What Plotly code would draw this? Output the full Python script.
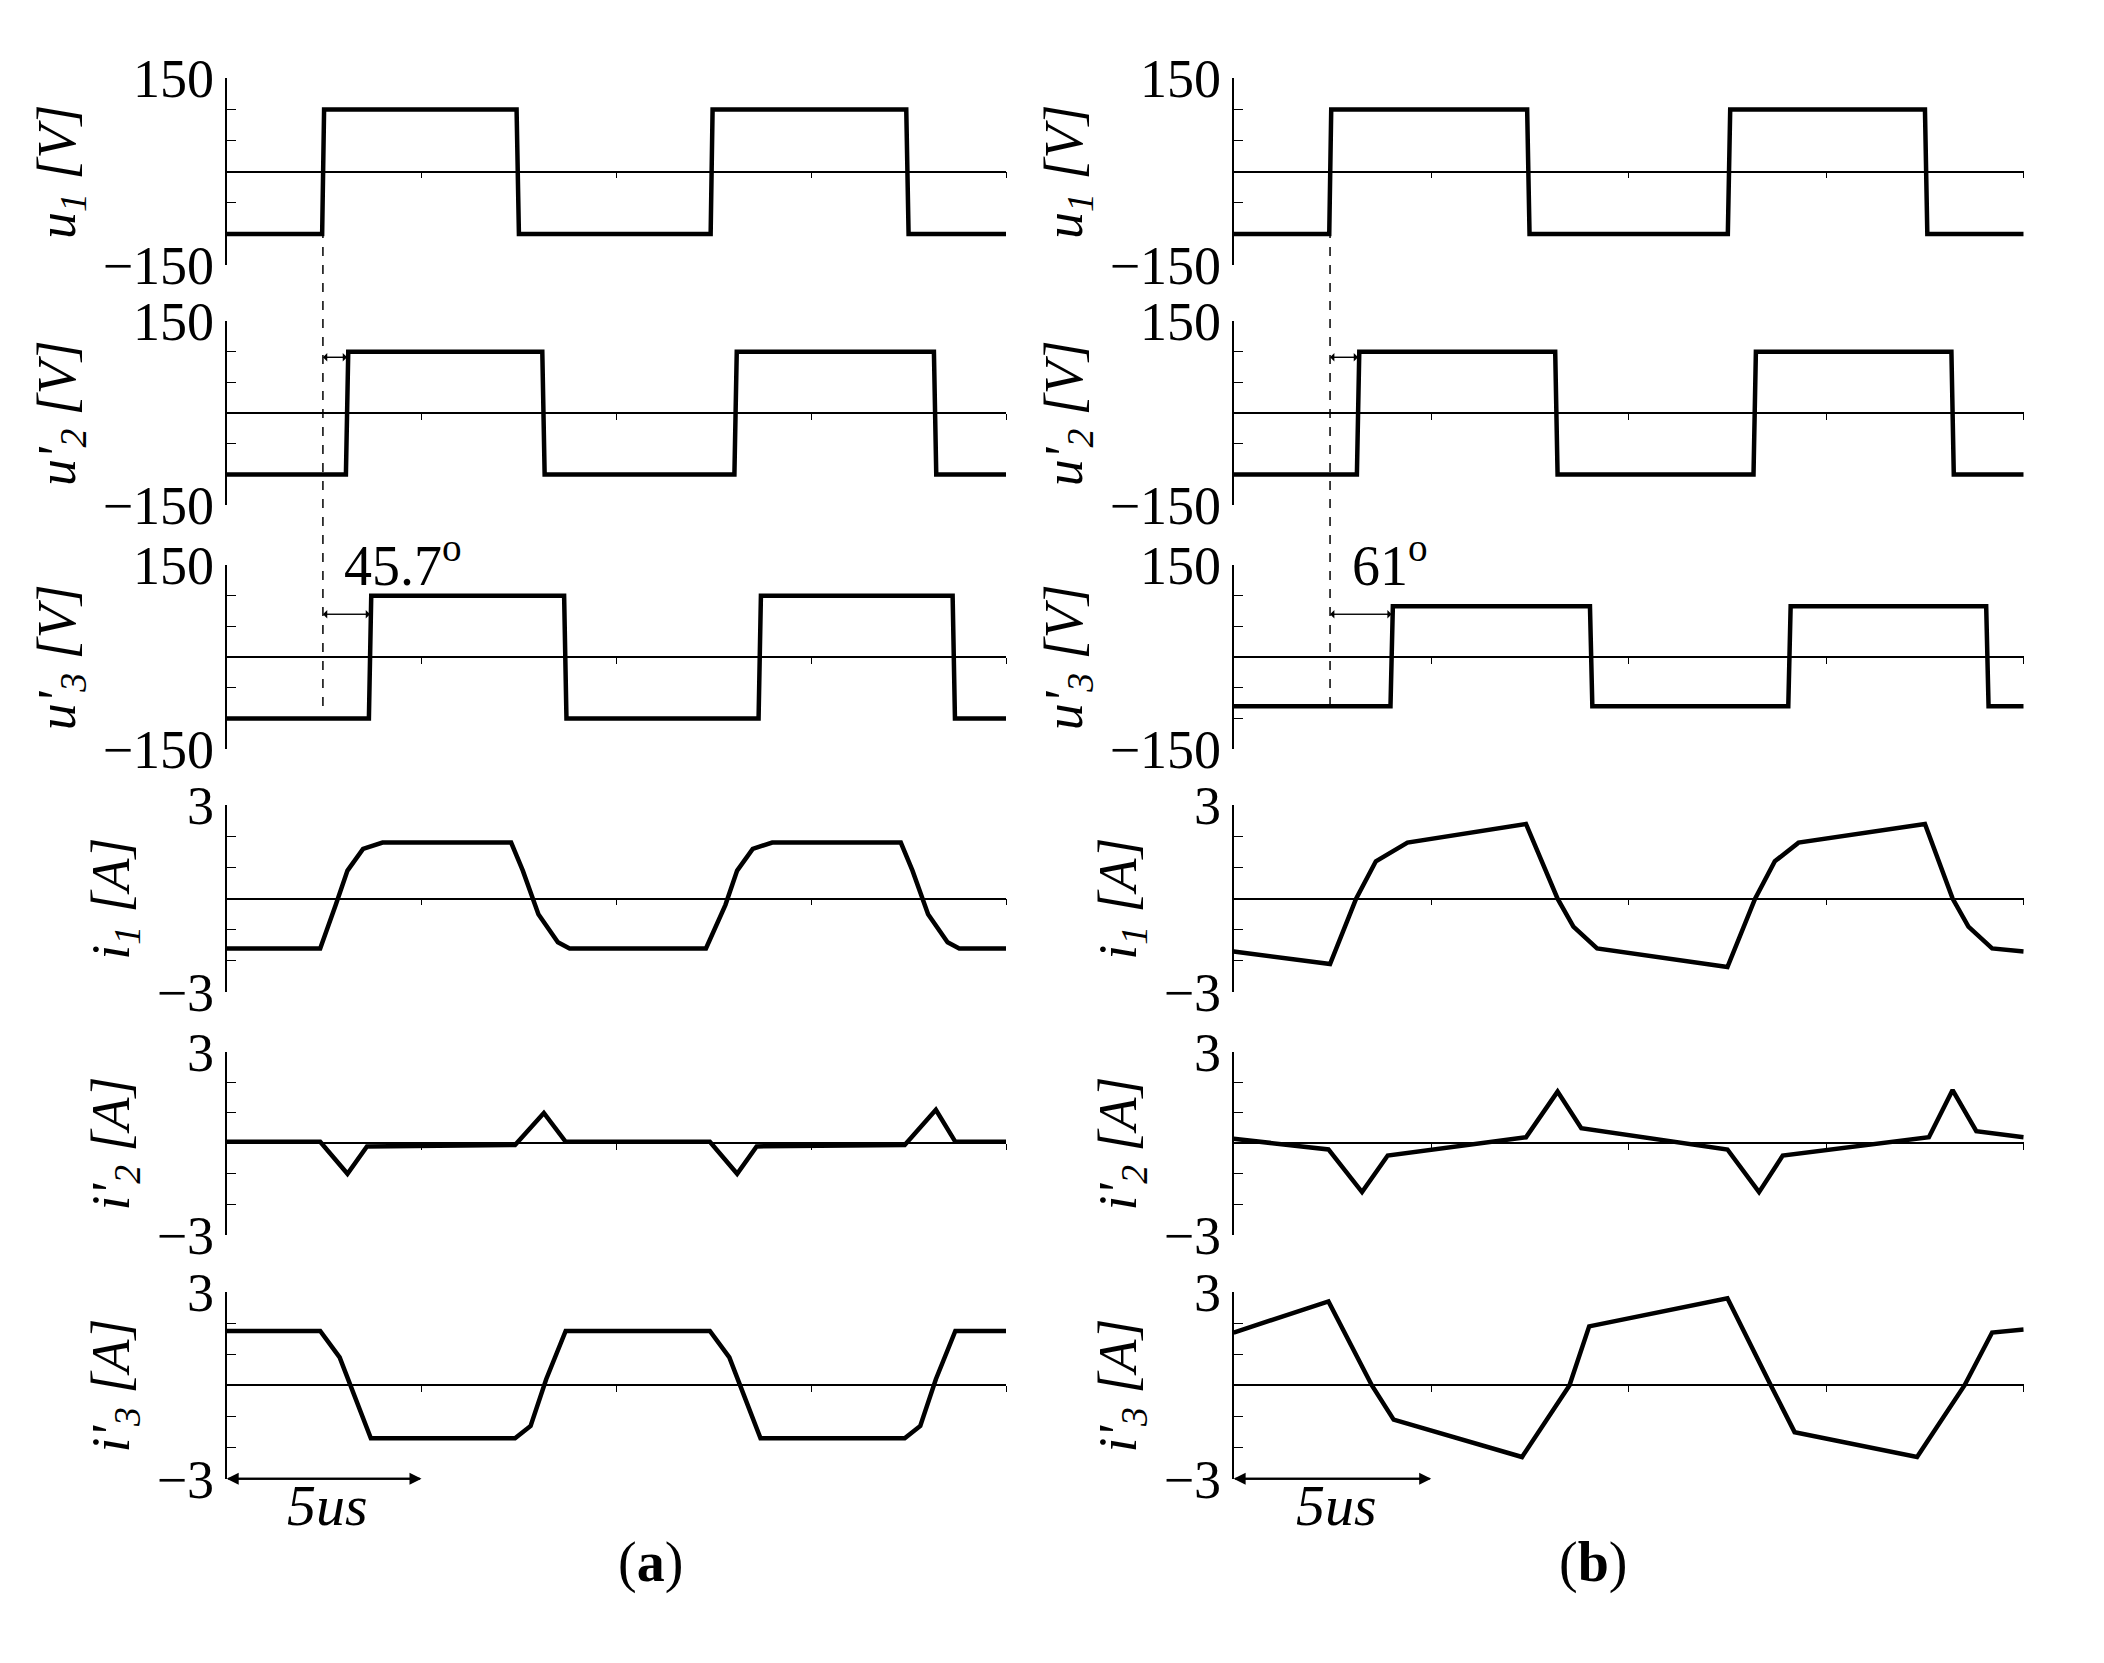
import plotly.graph_objects as go

# ---------------- data (time in us, values) ----------------
t_u1a = [0, 2.45, 2.5, 7.44, 7.5, 12.42, 12.47, 17.44, 17.5, 20]
v_u1a = [-100, -100, 100, 100, -100, -100, 100, 100, -100, -100]
t_u2a = [0, 3.06, 3.12, 8.1, 8.16, 13.03, 13.09, 18.15, 18.21, 20]
v_u2a = [-100, -100, 100, 100, -100, -100, 100, 100, -100, -100]
t_u3a = [0, 3.65, 3.71, 8.66, 8.72, 13.65, 13.71, 18.63, 18.69, 20]
v_u3a = [-100, -100, 100, 100, -100, -100, 100, 100, -100, -100]

t_u1b = [0, 2.42, 2.47, 7.43, 7.49, 12.51, 12.57, 17.5, 17.56, 20]
v_u1b = [-100, -100, 100, 100, -100, -100, 100, 100, -100, -100]
t_u2b = [0, 3.12, 3.18, 8.14, 8.2, 13.16, 13.22, 18.17, 18.23, 20]
v_u2b = [-100, -100, 100, 100, -100, -100, 100, 100, -100, -100]
t_u3b = [0, 3.97, 4.03, 9.02, 9.08, 14.04, 14.1, 19.05, 19.11, 20]
v_u3b = [-80, -80, 83, 83, -80, -80, 83, 83, -80, -80]

t_i1a = [0, 2.4, 2.8, 3.1, 3.5, 4.0, 7.3, 7.6, 8.0, 8.5, 8.8, 12.3, 12.8, 13.1, 13.5, 14.0, 17.3, 17.6, 18.0, 18.5, 18.8, 20]
v_i1a = [-1.6, -1.6, -0.2, 0.9, 1.6, 1.8, 1.8, 0.9, -0.5, -1.4, -1.6, -1.6, -0.2, 0.9, 1.6, 1.8, 1.8, 0.9, -0.5, -1.4, -1.6, -1.6]
t_i2a = [0, 2.4, 3.1, 3.6, 7.4, 8.14, 8.7, 12.4, 13.1, 13.6, 17.4, 18.2, 18.7, 20]
v_i2a = [0.05, 0.05, -1.0, -0.1, -0.05, 1.0, 0.05, 0.05, -1.0, -0.1, -0.05, 1.1, 0.05, 0.05]
t_i3a = [0, 2.4, 2.9, 3.3, 3.7, 7.4, 7.8, 8.2, 8.7, 12.4, 12.9, 13.3, 13.7, 17.4, 17.8, 18.2, 18.7, 20]
v_i3a = [1.75, 1.75, 0.9, -0.4, -1.7, -1.7, -1.3, 0.2, 1.75, 1.75, 0.9, -0.4, -1.7, -1.7, -1.3, 0.2, 1.75, 1.75]

t_i1b = [0, 2.44, 3.1, 3.6, 4.4, 7.4, 8.2, 8.6, 9.2, 12.5, 13.2, 13.7, 14.3, 17.5, 18.2, 18.6, 19.2, 20]
v_i1b = [-1.7, -2.1, 0.0, 1.2, 1.8, 2.4, 0.0, -0.9, -1.6, -2.2, 0.0, 1.2, 1.8, 2.4, 0.0, -0.9, -1.6, -1.7]
t_i2b = [0, 2.4, 3.25, 3.9, 7.4, 8.2, 8.8, 12.5, 13.3, 13.9, 17.6, 18.2, 18.8, 20]
v_i2b = [0.15, -0.2, -1.6, -0.4, 0.2, 1.7, 0.5, -0.2, -1.6, -0.4, 0.2, 1.75, 0.4, 0.2]
t_i3b = [0, 2.4, 3.5, 4.05, 7.3, 8.5, 9.0, 12.5, 13.6, 14.2, 17.3, 18.5, 19.2, 20]
v_i3b = [1.7, 2.7, 0.0, -1.1, -2.3, 0.0, 1.9, 2.8, 0.0, -1.5, -2.3, 0.0, 1.7, 1.8]

u_labels = ["u<sub>1</sub> [V]", "u'<sub>2</sub> [V]", "u'<sub>3</sub> [V]"]
i_labels = ["i<sub>1</sub> [A]", "i'<sub>2</sub> [A]", "i'<sub>3</sub> [A]"]
phase_labels = ["45.7<sup>o</sup>", "61<sup>o</sup>"]
panel_labels = ["(<b>a</b>)", "(<b>b</b>)"]

cols = [
    [(t_u1a, v_u1a), (t_u2a, v_u2a), (t_u3a, v_u3a), (t_i1a, v_i1a), (t_i2a, v_i2a), (t_i3a, v_i3a)],
    [(t_u1b, v_u1b), (t_u2b, v_u2b), (t_u3b, v_u3b), (t_i1b, v_i1b), (t_i2b, v_i2b), (t_i3b, v_i3b)],
]
edge_t = [[2.47, 3.09, 3.68], [2.44, 3.15, 4.0]]

# ---------------- layout geometry ----------------
W, H = 2104, 1663
col_x = [(168, 750), (920, 1510)]
rows_y = [(55, 195), (237, 375), (420, 558), (600, 740), (785, 922), (965, 1105)]
FONT = "Liberation Serif"
TS = 54

fig = go.Figure()
layout = dict(width=W, height=H, margin=dict(l=0, r=0, t=0, b=0),
              plot_bgcolor="white", paper_bgcolor="white", showlegend=False,
              font=dict(family=FONT, color="black"))
shapes, annotations = [], []

def px(d):
    return ((d - 4.7) / 1.0137) / 1550.0

def py(d):
    return 1 - ((d - 24) / 0.981) / (1663 * 1550.0 / 2104)

k = 0
for c in range(2):
    x0, x1 = px(col_x[c][0]), px(col_x[c][1])
    for r in range(6):
        k += 1
        xa = "x" if k == 1 else f"x{k}"
        ya = "y" if k == 1 else f"y{k}"
        t, v = cols[c][r]
        fig.add_trace(go.Scatter(x=t, y=v, mode="lines", xaxis=xa, yaxis=ya,
                                 line=dict(color="black", width=4.5)))
        y_top, y_bot = py(rows_y[r][0]), py(rows_y[r][1])
        isu = r < 3
        lim = 150 if isu else 3
        step = 50 if isu else 1
        layout["xaxis" if k == 1 else f"xaxis{k}"] = dict(
            domain=[x0, x1], range=[0, 20], anchor="free", position=(y_top + y_bot) / 2,
            showline=True, linecolor="black", linewidth=1.5, ticks="outside", ticklen=6,
            tickcolor="black", tickvals=[5, 10, 15, 20], showticklabels=False,
            showgrid=False, zeroline=False)
        yl = u_labels[r] if isu else i_labels[r - 3]
        layout["yaxis" if k == 1 else f"yaxis{k}"] = dict(
            domain=[y_bot, y_top], range=[-lim, lim], anchor=xa,
            showline=True, linecolor="black", linewidth=1.5, ticks="inside", ticklen=10,
            tickcolor="black", tickvals=[i * step for i in range(-3, 4)],
            ticktext=[("−" + str(lim)) if i == -3 else (str(lim) if i == 3 else "") for i in range(-3, 4)],
            tickfont=dict(size=TS, family=FONT), showgrid=False, zeroline=False,
            title=dict(text="<i>" + yl + "</i>", font=dict(size=54, family=FONT), standoff=10))
    te = edge_t[c]
    shapes.append(dict(type="line", xref="x" if c == 0 else "x7", yref="paper",
                       x0=te[0], x1=te[0], y0=py(168), y1=py(530),
                       line=dict(color="black", width=1.5, dash="dash")))
    ax_u2 = "x2" if c == 0 else "x8"
    ay_u2 = "y2" if c == 0 else "y8"
    ax_u3 = "x3" if c == 0 else "x9"
    ay_u3 = "y3" if c == 0 else "y9"
    for xa, ya, tend, lev in [(ax_u2, ay_u2, te[1], 91), (ax_u3, ay_u3, te[2], 70)]:
        for a, b in [(te[0], tend), (tend, te[0])]:
            annotations.append(dict(x=b, y=lev, ax=a, ay=lev, xref=xa, yref=ya, axref=xa, ayref=ya,
                                    text="", showarrow=True, arrowhead=1, arrowsize=1.2,
                                    arrowwidth=1.2, arrowcolor="black"))
    annotations.append(dict(x=te[0] + 0.5, y=95, xref=ax_u3, yref=ay_u3, text=phase_labels[c],
                            showarrow=False, xanchor="left", yanchor="bottom",
                            font=dict(size=56, family=FONT)))
    xa6 = "x6" if c == 0 else "x12"
    ya6 = "y6" if c == 0 else "y12"
    for a, b in [(0, 5), (5, 0)]:
        annotations.append(dict(x=b, y=-3, ax=a, ay=-3, xref=xa6, yref=ya6, axref=xa6, ayref=ya6,
                                text="", showarrow=True, arrowhead=2, arrowsize=1.2,
                                arrowwidth=2, arrowcolor="black"))
    annotations.append(dict(x=2.6, y=py(1125), xref=xa6, yref="paper", text="<i>5us</i>",
                            showarrow=False, yanchor="middle", font=dict(size=58, family=FONT)))
    annotations.append(dict(x=(x0 + x1) / 2, y=py(1168), xref="paper", yref="paper",
                            text=panel_labels[c], showarrow=False, yanchor="middle",
                            font=dict(size=56, family=FONT)))

layout["shapes"] = shapes
layout["annotations"] = annotations
fig.update_layout(**layout)
fig.write_html("out.html")
